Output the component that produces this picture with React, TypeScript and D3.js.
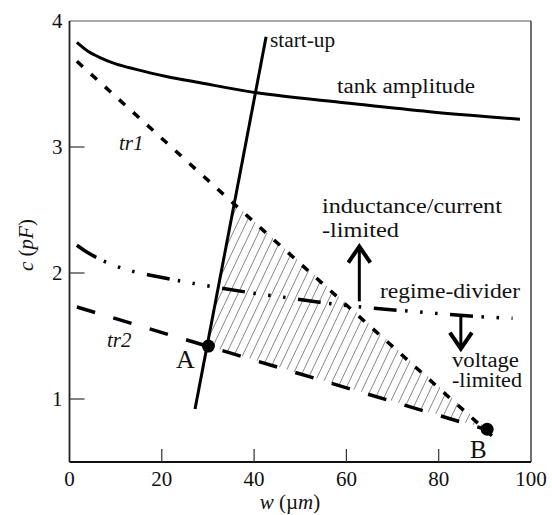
import React from "react";
import * as d3 from "d3";

// Axis domains and ticks
const wDomain: [number, number] = [0, 100];
const cDomain: [number, number] = [0.5, 4];
const xTickMarks = [20, 40, 60, 80];
const xTickLabels = [0, 20, 40, 60, 80, 100];
const yTickMarks = [1, 2, 3];
const yTickLabels = [1, 2, 3, 4];

// Curves: [w (µm), c (pF)]
const tankAmplitude: [number, number][] = [
  [1.6, 3.83], [4, 3.76], [6.6, 3.71], [10, 3.66], [14, 3.62], [21, 3.56],
  [28.3, 3.51], [40.6, 3.43], [60, 3.35], [78, 3.28], [97.6, 3.22],
];
const startUp: [number, number][] = [[27.2, 0.92], [42.6, 3.875]];
const tr1: [number, number][] = [[1.6, 3.68], [37.7, 2.48], [62.6, 1.66], [93.3, 0.65]];
const tr2: [number, number][] = [[1.6, 1.73], [30.1, 1.417], [90.4, 0.756]];
const regimeDivider: [number, number][] = [
  [1.6, 2.22], [4, 2.16], [6, 2.12], [9, 2.07], [13, 2.02], [20.6, 1.96], [26.5, 1.92],
  [38, 1.85], [48, 1.8], [57, 1.755], [66, 1.72], [76, 1.69], [86, 1.66], [96, 1.64],
];

// Design points
const pointNames = ["A", "B"];
const pointW = [30.1, 90.5];
const pointC = [1.42, 0.76];

// Text annotations (anchor in data units)
const noteText = [
  "start-up", "tank amplitude", "inductance/current", "-limited",
  "regime-divider", "voltage", "-limited",
];
const noteW = [43.45, 57.96, 54.7, 54.7, 67.28, 82.88, 82.88];
const noteC = [3.79, 3.43, 2.476, 2.286, 1.8, 1.254, 1.095];
const noteLen = [65, 138, 180, 77, 140, 67, 70];

// Regime arrows: [w, c from, c to]
const arrows: [number, number, number][] = [
  [62.8, 1.775, 2.21],
  [84.8, 1.67, 1.4],
];

const WIDTH = 552;
const HEIGHT = 515;
const FONT = "Liberation Serif, Times New Roman, Times, serif";

function intersect(a: [number, number][], b: [number, number][]): [number, number] {
  // intersection of the straight lines through first/last points of a and b
  const [x1, y1] = a[0], [x2, y2] = a[a.length - 1];
  const [x3, y3] = b[0], [x4, y4] = b[b.length - 1];
  const den = (x1 - x2) * (y3 - y4) - (y1 - y2) * (x3 - x4);
  const t = ((x1 - x3) * (y3 - y4) - (y1 - y3) * (x3 - x4)) / den;
  return [x1 + t * (x2 - x1), y1 + t * (y2 - y1)];
}

const txt = { fontFamily: FONT };

export default function App() {
  const x = d3.scaleLinear().domain(wDomain).range([69.5, 531]);
  const y = d3.scaleLinear().domain(cDomain).range([462, 21]);

  const line = d3.line<[number, number]>().x((d) => x(d[0])).y((d) => y(d[1]));
  const smooth = d3
    .line<[number, number]>()
    .x((d) => x(d[0]))
    .y((d) => y(d[1]))
    .curve(d3.curveCatmullRom.alpha(0.5));

  // Feasible design region: start-up line, tr1 and tr2
  const A: [number, number] = [pointW[0], pointC[0]];
  const B: [number, number] = [pointW[1], pointC[1]];
  const T = intersect(startUp, tr1);
  const region = line([A, T, B, A]) || "";

  // hatch lines across the region bounding box
  const bx0 = x(A[0]) - 10, bx1 = x(B[0]) + 10;
  const by0 = y(T[1]) - 5, by1 = y(B[1]) + 5;
  const slope = 2.1; // dy per dx in pixels
  const hatch: number[] = d3.range(bx0 - (by1 - by0) / slope, bx1, 8.5);

  return (
    <svg
      width={WIDTH}
      height={HEIGHT}
      style={{ position: "absolute", left: 0, top: 0, background: "#fff", fontFamily: FONT }}
    >
      <defs>
        <clipPath id="region-clip">
          <path d={region} />
        </clipPath>
      </defs>

      {/* hatched region */}
      <g clipPath="url(#region-clip)" stroke="#555" strokeWidth={0.7}>
        {hatch.map((hx, i) => (
          <line key={i} x1={hx} y1={by1} x2={hx + (by1 - by0) / slope} y2={by0} />
        ))}
      </g>

      {/* frame */}
      <line x1={x(0)} y1={y(4)} x2={x(100)} y2={y(4)} stroke="#555" strokeWidth={1.2} />
      <line x1={x(100)} y1={y(4)} x2={x(100)} y2={y(0.5)} stroke="#333" strokeWidth={1.4} />
      <line x1={x(0)} y1={y(4)} x2={x(0)} y2={y(0.5)} stroke="#222" strokeWidth={1.8} />
      <line x1={x(0)} y1={y(0.5)} x2={x(100)} y2={y(0.5)} stroke="#111" strokeWidth={2} />

      {/* inward ticks */}
      {xTickMarks.map((t) => (
        <line key={t} x1={x(t)} x2={x(t)} y1={y(0.5)} y2={y(0.5) - 13} stroke="#333" strokeWidth={1.2} />
      ))}
      {yTickMarks.map((t) => (
        <line key={t} x1={x(0)} x2={x(0) + 15} y1={y(t)} y2={y(t)} stroke="#333" strokeWidth={1.2} />
      ))}

      {/* tick labels */}
      {xTickLabels.map((t) => (
        <text key={t} style={txt} x={x(t)} y={y(0.5) + 24} textAnchor="middle" fontSize={21} fill="#111">
          {t}
        </text>
      ))}
      {yTickLabels.map((t) => (
        <text key={t} style={txt} x={x(0) - 7} y={y(t) + 7} textAnchor="end" fontSize={21} fill="#111">
          {t}
        </text>
      ))}

      {/* axis titles */}
      <text style={txt} x={290} y={509} textAnchor="middle" fontSize={21} fill="#111">
        <tspan fontStyle="italic">w</tspan>
        <tspan> (</tspan>
        <tspan>µ</tspan>
        <tspan fontStyle="italic">m</tspan>
        <tspan>)</tspan>
      </text>
      <text
        style={txt}
        transform="translate(33,245) rotate(-90)"
        textAnchor="middle"
        fontSize={21}
        fill="#111"
      >
        <tspan fontStyle="italic">c</tspan>
        <tspan> (</tspan>
        <tspan fontStyle="italic">pF</tspan>
        <tspan>)</tspan>
      </text>

      {/* curves */}
      <path d={smooth(tankAmplitude) || ""} fill="none" stroke="#000" strokeWidth={3} />
      <path d={line(startUp) || ""} fill="none" stroke="#000" strokeWidth={3} />
      <path d={line(tr1) || ""} fill="none" stroke="#000" strokeWidth={3.5} strokeDasharray="8,11" />
      <path d={line(tr2) || ""} fill="none" stroke="#000" strokeWidth={3.5} strokeDasharray="19,19" />
      <path
        d={smooth(regimeDivider) || ""}
        fill="none"
        stroke="#000"
        strokeWidth={3.5}
        strokeDasharray="23,8.5,2.5,12.5,2.5,12.5,2.5,12.5"
      />

      {/* design points */}
      {pointNames.map((n, i) => (
        <circle key={n} cx={x(pointW[i])} cy={y(pointC[i])} r={6.5} fill="#000" />
      ))}
      <text style={txt} x={x(23.08)} y={y(1.246)} fontSize={26} fill="#111">A</text>
      <text style={txt} x={x(86.78)} y={y(0.53)} fontSize={25} fill="#111">B</text>

      {/* curve names */}
      <text style={txt} x={x(10.73)} y={y(2.98)} fontSize={21} fontStyle="italic" fill="#111">tr1</text>
      <text style={txt} x={x(8.13)} y={y(1.41)} fontSize={21} fontStyle="italic" fill="#111">tr2</text>

      {noteText.map((t, i) => (
        <text
          key={i}
          style={txt}
          x={x(noteW[i])}
          y={y(noteC[i])}
          fontSize={20}
          fill="#111"
          textLength={noteLen[i]}
          lengthAdjust="spacingAndGlyphs"
        >
          {t}
        </text>
      ))}

      {/* regime arrows */}
      {arrows.map(([w, c0, c1], i) => {
        const ax = x(w);
        const y0 = y(c0);
        const y1 = y(c1);
        const dir = y1 < y0 ? 1 : -1;
        return (
          <g key={i} stroke="#000" fill="none">
            <line x1={ax} x2={ax} y1={y0} y2={y1} strokeWidth={3} />
            <polyline
              points={`${ax - 11},${y1 + dir * 16} ${ax},${y1} ${ax + 11},${y1 + dir * 16}`}
              strokeWidth={4}
            />
          </g>
        );
      })}
    </svg>
  );
}
